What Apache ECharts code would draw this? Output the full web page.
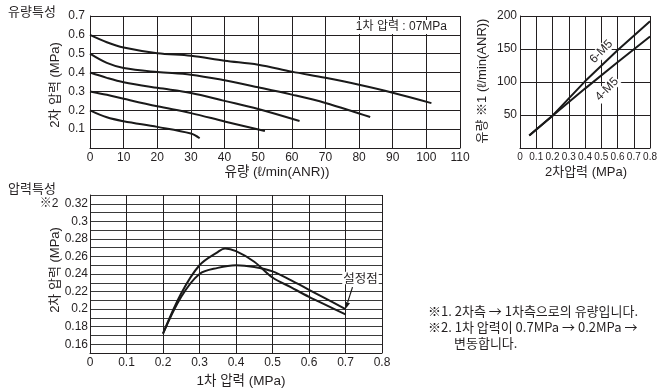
<!DOCTYPE html>
<html><head><meta charset="utf-8">
<script src="https://cdn.jsdelivr.net/npm/echarts@6/dist/echarts.min.js"></script>
<style>html,body{margin:0;padding:0;background:#fff}#c{width:660px;height:389px}</style>
</head><body><div id="c"></div>
<script>
// ---------- data ----------
const flowXTicks = ['0','10','20','30','40','50','60','70','80','90','100','110'];
const flowYTicks = ['0.1','0.2','0.3','0.4','0.5','0.6','0.7'];
const flow06 = [[0,0.6],[5,0.561],[10,0.533],[20,0.503],[30,0.489],[40,0.463],[50,0.442],[60,0.405],[70,0.372],[80,0.335],[90,0.293],[101.5,0.238]];
const flow05 = [[0,0.5],[5,0.451],[10,0.424],[20,0.403],[30,0.389],[40,0.359],[50,0.322],[60,0.283],[70,0.239],[80,0.183],[83.3,0.164]];
const flow04 = [[0,0.4],[5,0.372],[10,0.349],[20,0.319],[30,0.292],[40,0.25],[50,0.207],[62.3,0.143]];
const flow03 = [[0,0.3],[5,0.282],[10,0.261],[20,0.221],[30,0.185],[40,0.141],[52,0.09]];
const flow02 = [[0,0.2],[5,0.163],[10,0.142],[20,0.112],[30,0.077],[32.6,0.052]];

const revXTicks = ['0','0.1','0.2','0.3','0.4','0.5','0.6','0.7','0.8'];
const revYTicks = ['50','100','150','200'];
const rev6M5 = [[0.057,19],[0.2,49],[0.4,101],[0.6,148],[0.8,192]];
const rev4M5 = [[0.057,19],[0.2,49],[0.4,90],[0.6,130],[0.8,169]];

const pressXTicks = ['0','0.1','0.2','0.3','0.4','0.5','0.6','0.7','0.8'];
const pressYTicks = ['0.16','0.18','0.2','0.22','0.24','0.26','0.28','0.3','0.32'];
const pressPeak = [[0.2,0.172],[0.25,0.218],[0.3,0.250],[0.35,0.265],[0.37,0.269],[0.4,0.266],[0.45,0.254],[0.5,0.236],[0.55,0.225],[0.6,0.214],[0.65,0.204],[0.7,0.194]];
const pressFlat = [[0.2,0.172],[0.25,0.214],[0.3,0.240],[0.35,0.247],[0.4,0.250],[0.45,0.248],[0.5,0.243],[0.55,0.233],[0.6,0.222],[0.65,0.211],[0.7,0.200]];

// ---------- style ----------
const INK = '#231f20';
const KR = "'Noto Sans CJK KR'";
const SANS = "'Liberation Sans'," + KR + ",sans-serif";
const NARROW = "'Liberation Sans Narrow','Liberation Sans'," + KR + ",sans-serif";
const fmt = (list, d) => v => { const s = String(+(+v).toFixed(d)); return list.indexOf(s) >= 0 ? s : ''; };

function axis(gi, min, max, interval, ticks, d, font, size, margin, gridColor) {
  return {
    type: 'value', gridIndex: gi, min: min, max: max, interval: interval,
    axisLine: { show: true, lineStyle: { color: INK, width: 1 } },
    axisTick: { show: false },
    splitLine: { show: true, showMinLine: true, showMaxLine: true, lineStyle: { color: gridColor || INK, width: 1 } },
    axisLabel: { formatter: fmt(ticks, d), color: INK, fontFamily: font, fontSize: size, margin: margin, showMinLabel: true, showMaxLabel: true }
  };
}
function line(xi, yi, data) {
  return { type: 'line', xAxisIndex: xi, yAxisIndex: yi, data: data, smooth: 0.35, showSymbol: false, silent: true,
    lineStyle: { color: '#1a1a1a', width: 2 }, animation: false };
}

const chart = echarts.init(document.getElementById('c'), null, { renderer: 'canvas' });
chart.setOption({
  animation: false,
  backgroundColor: '#fff',
  grid: [
    { left: 90, top: 16, width: 370, height: 132 },
    { left: 520, top: 16, width: 132, height: 132 },
    { left: 90, top: 195, width: 292, height: 158 }
  ],
  xAxis: [
    axis(0, 0, 110, 10, flowXTicks, 0, SANS, 12, 4),
    axis(1, 0, 0.8, 0.1, revXTicks, 1, NARROW, 10, 4),
    axis(2, 0, 0.8, 0.1, pressXTicks, 1, SANS, 12, 4)
  ],
  yAxis: [
    axis(0, 0, 0.7, 0.1, flowYTicks, 1, SANS, 12, 5),
    axis(1, 0, 200, 50, revYTicks, 0, NARROW, 12, 3),
    axis(2, 0.15, 0.33, 0.01, pressYTicks, 2, NARROW, 12, 2, '#3a3a3a')
  ],
  series: [
    line(0, 0, flow06), line(0, 0, flow05), line(0, 0, flow04), line(0, 0, flow03), line(0, 0, flow02),
    Object.assign(line(1, 1, rev6M5), { smooth: false }),
    Object.assign(line(1, 1, rev4M5), { smooth: false }),
    line(2, 2, pressPeak), line(2, 2, pressFlat)
  ]
});

// ---------- texts & annotations ----------
function txt(text, x, y, size, opt) {
  opt = opt || {};
  return { type: 'text', x: x, y: y, rotation: opt.rot || 0, z: 100, silent: true,
    style: Object.assign({ text: text, x: 0, y: 0, fill: INK, font: size + 'px ' + (opt.font || SANS),
      textAlign: opt.align || 'center', textVerticalAlign: 'middle' }, opt.style || {}) };
}
const p6 = chart.convertToPixel({ gridIndex: 1 }, [0.5, 146]);
const p4 = chart.convertToPixel({ gridIndex: 1 }, [0.535, 89]);
const tgt = chart.convertToPixel({ gridIndex: 2 }, [0.7, 0.2]);
const from = [tgt[0] + 7, tgt[1] - 22];
const dx = tgt[0] - from[0], dy = tgt[1] - from[1], L = Math.hypot(dx, dy);
const ux = dx / L, uy = dy / L, px = -uy, py = ux;
const base = [tgt[0] - ux * 7, tgt[1] - uy * 7];
const FOOT = KR + ",sans-serif";

chart.setOption({
  graphic: [
    txt('유량특성', 8, 12, 13, { align: 'left' }),
    txt('2차 압력 (MPa)', 55, 85, 13, { rot: Math.PI / 2 }),
    txt('유량 (ℓ/min(ANR))', 277, 172, 13.5),
    txt('1차 압력 : 07MPa', 448, 27, 12, { align: 'right', font: NARROW, style: { backgroundColor: '#fff', padding: [1, 1, 1, 2] } }),
    txt('유량 ※1 (ℓ/min(ANR))', 482, 81, 13, { rot: Math.PI / 2 }),
    txt('2차압력 (MPa)', 586, 172, 13),
    txt('6-M5', p6[0], p6[1], 12, { rot: 0.8, style: { backgroundColor: '#fff', padding: [0, 1] } }),
    txt('4-M5', p4[0], p4[1], 12, { rot: 0.8, style: { backgroundColor: '#fff', padding: [0, 1] } }),
    txt('압력특성', 8, 189, 13, { align: 'left' }),
    txt('※2', 49, 204, 12),
    txt('2차 압력 (MPa)', 55, 270, 13, { rot: Math.PI / 2 }),
    txt('1차 압력 (MPa)', 241, 381, 13.5),
    txt('설정점', tgt[0] + 15, tgt[1] - 31, 12.5, { font: KR, style: { backgroundColor: '#fff', padding: [0, 1] } }),
    { type: 'line', z: 100, silent: true, shape: { x1: from[0], y1: from[1], x2: base[0], y2: base[1] }, style: { stroke: '#1a1a1a', lineWidth: 1.2 } },
    { type: 'polygon', z: 100, silent: true, shape: { points: [tgt, [base[0] + px * 2.5, base[1] + py * 2.5], [base[0] - px * 2.5, base[1] - py * 2.5]] }, style: { fill: '#1a1a1a' } },
    txt('※1. 2차측 → 1차측으로의 유량입니다.', 428, 311, 13, { align: 'left', font: FOOT }),
    txt('※2. 1차 압력이 0.7MPa → 0.2MPa →', 428, 327, 13, { align: 'left', font: FOOT }),
    txt('변동합니다.', 454, 343, 13, { align: 'left', font: FOOT })
  ]
});
</script>
</body></html>
